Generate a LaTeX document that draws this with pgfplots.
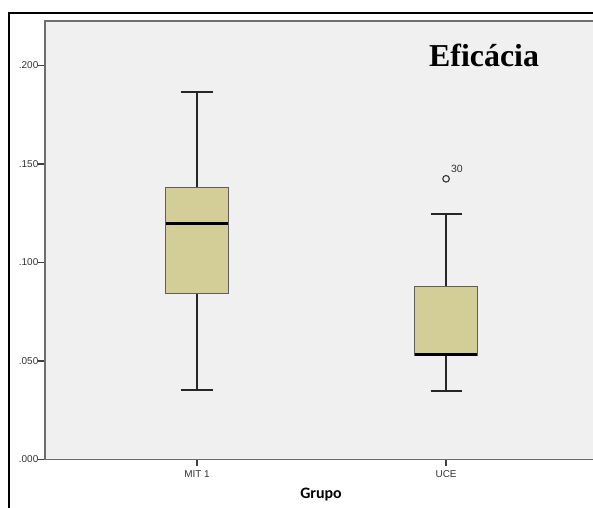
\documentclass[border=0pt]{standalone}
\usepackage{pgfplots}
\pgfplotsset{compat=1.18}
\usepgfplotslibrary{statistics}
\usepackage{fontspec}
\setmainfont{Liberation Sans}
\newfontfamily\titlefont{Liberation Serif}
\newfontfamily\labfont{Carlito}
\definecolor{bg}{HTML}{F0F0F0}
\definecolor{boxfill}{HTML}{D3CE97}
\definecolor{boxedge}{HTML}{5E5E5E}
\definecolor{axgray}{HTML}{6E6E6E}
\begin{document}
\begin{tikzpicture}
\useasboundingbox (0bp,0bp) rectangle (593bp,508bp);
\begin{axis}[
  at={(45bp,48.5bp)}, anchor=south west,
  scale only axis, width=551bp, height=438.5bp,
  xmin=0.3896, xmax=2.602, ymin=0, ymax=0.2226,
  axis background/.style={fill=bg},
  axis line style={axgray, line width=1.4bp},
  xtick={1,2}, xticklabels={MIT 1,UCE},
  ytick={0,0.05,0.1,0.15,0.2}, yticklabels={.000,.050,.100,.150,.200},
  tick align=outside, major tick length=6.5bp, tick pos=left,
  tick style={black!75, line width=1.2bp},
  ticklabel style={font=\fontsize{10}{11}\selectfont, text=black!80},
  yticklabel style={inner sep=0pt, anchor=east},
  xticklabel style={inner sep=0pt, anchor=north, yshift=-4bp},
  boxplot/draw direction=y,
]
\addplot+[boxplot prepared={draw position=1, median=0.1200, upper quartile=0.1381,
    lower quartile=0.0843, upper whisker=0.1868, lower whisker=0.0355,
    box extend=0.25, whisker extend=0.125},
  fill=boxfill, draw=black!85, line width=2bp, mark=none, solid,
  boxplot/every box/.style={draw=boxedge, line width=1bp},
  boxplot/every median/.style={draw=black, line width=3bp},
  boxplot/every whisker/.style={draw=black!85, line width=2bp}] coordinates {};
\addplot+[boxplot prepared={draw position=2, median=0.0534, upper quartile=0.0878,
    lower quartile=0.0530, upper whisker=0.1244, lower whisker=0.0350,
    box extend=0.25, whisker extend=0.125},
  fill=boxfill, draw=black!85, line width=2bp, mark=none, solid,
  boxplot/every box/.style={draw=boxedge, line width=1bp},
  boxplot/every median/.style={draw=black, line width=3bp},
  boxplot/every whisker/.style={draw=black!85, line width=2bp}] coordinates {};
\addplot[only marks, mark=o, mark size=3.3bp, mark options={draw=black!80, line width=1.1bp}]
  coordinates {(2,0.1425)};
\node[anchor=west, inner sep=0pt, font=\fontsize{10.5}{12}\selectfont, text=black!80]
  at (axis cs:2.019,0.1475) {30};
\end{axis}
\node[anchor=base west, inner sep=0pt, font=\titlefont\bfseries\fontsize{32}{36}\selectfont]
  at (429bp,441.3bp) {Eficácia};
\node[font=\labfont\bfseries\fontsize{16}{18}\selectfont] at (321bp,13bp) {Grupo};
\draw[black, line width=2.6bp] (9bp,-5bp) -- (9bp,495bp) -- (600bp,495bp);
\end{tikzpicture}
\end{document}
